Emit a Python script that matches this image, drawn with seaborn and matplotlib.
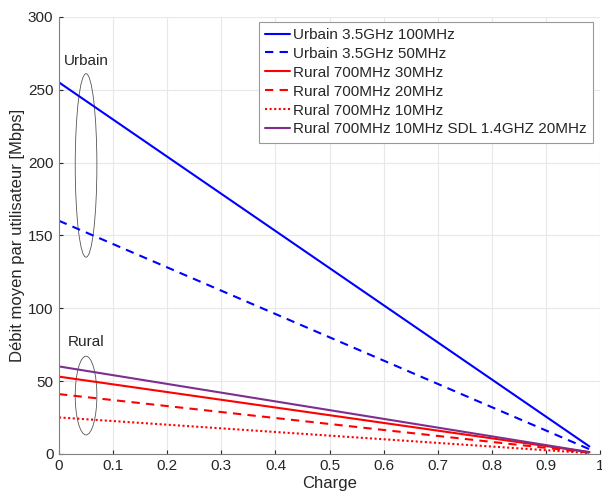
import numpy as np
import pandas as pd
import matplotlib
matplotlib.use("Agg")
import matplotlib.pyplot as plt
from matplotlib.patches import Ellipse
import seaborn as sns

# load points (start and end of each line)
charge = [0, 0.98]
urbain_100 = [255, 5.1]
urbain_50 = [160, 3.2]
rural_30 = [53, 1.1]
rural_20 = [41, 0.8]
rural_10 = [25, 0.5]
rural_sdl = [60, 1.2]

labels = ['Urbain 3.5GHz 100MHz', 'Urbain 3.5GHz 50MHz', 'Rural 700MHz 30MHz',
          'Rural 700MHz 20MHz', 'Rural 700MHz 10MHz', 'Rural 700MHz 10MHz SDL 1.4GHZ 20MHz']
series = [urbain_100, urbain_50, rural_30, rural_20, rural_10, rural_sdl]
colors = ['#0000ff', '#0000ff', '#ff0000', '#ff0000', '#ff0000', '#7e2f8e']
styles = ['-', (0, (4, 3)), '-', (0, (4, 3)), (0, (1, 1.2)), '-']

sns.set_style('ticks')
plt.rcParams['font.family'] = ['Liberation Sans', 'DejaVu Sans']

fig = plt.figure(figsize=(6.02, 4.96), dpi=100)
ax = fig.add_axes([0.098, 0.085, 0.899, 0.881])

for lab, vals, col, ls in zip(labels, series, colors, styles):
    df = pd.DataFrame({'Charge': charge, 'Debit': vals})
    sns.lineplot(data=df, x='Charge', y='Debit', color=col, linestyle=ls,
                 linewidth=1.5, label=lab, ax=ax)

# ellipses around groups
ax.add_patch(Ellipse((0.05, 198), 0.04, 126, fill=False, edgecolor='#555555', linewidth=0.6))
ax.add_patch(Ellipse((0.05, 40), 0.04, 54, fill=False, edgecolor='#555555', linewidth=0.6))
ax.text(0.05, 270, 'Urbain', ha='center', va='center', fontsize=11)
ax.text(0.05, 77, 'Rural', ha='center', va='center', fontsize=11)

ax.set_xlim(0, 1)
ax.set_ylim(0, 300)
ax.set_xticks(np.arange(0, 1.01, 0.1))
ax.set_xticklabels(['0', '0.1', '0.2', '0.3', '0.4', '0.5', '0.6', '0.7', '0.8', '0.9', '1'])
ax.set_yticks(np.arange(0, 301, 50))
ax.grid(True, color='#e8e8e8', linewidth=0.8)
ax.tick_params(direction='in', length=3, labelsize=11, colors='#262626', pad=4)
ax.tick_params(axis='y', pad=4)
for s in ['top', 'right']:
    ax.spines[s].set_visible(False)
for s in ['left', 'bottom']:
    ax.spines[s].set_color('#808080')
    ax.spines[s].set_linewidth(0.8)

ax.set_xlabel('Charge', fontsize=12, labelpad=2)
ax.set_ylabel('Débit moyen par utilisateur [Mbps]', fontsize=12, labelpad=2)

leg = ax.legend(loc='upper right', bbox_to_anchor=(0.987, 0.9886), fontsize=11,
                frameon=True, fancybox=False, framealpha=1, edgecolor='#999999',
                handlelength=1.63, handletextpad=0.2, labelspacing=0.32, borderpad=0.4,
                borderaxespad=0)
leg.get_frame().set_linewidth(0.8)

plt.savefig('out.png', dpi=100)
